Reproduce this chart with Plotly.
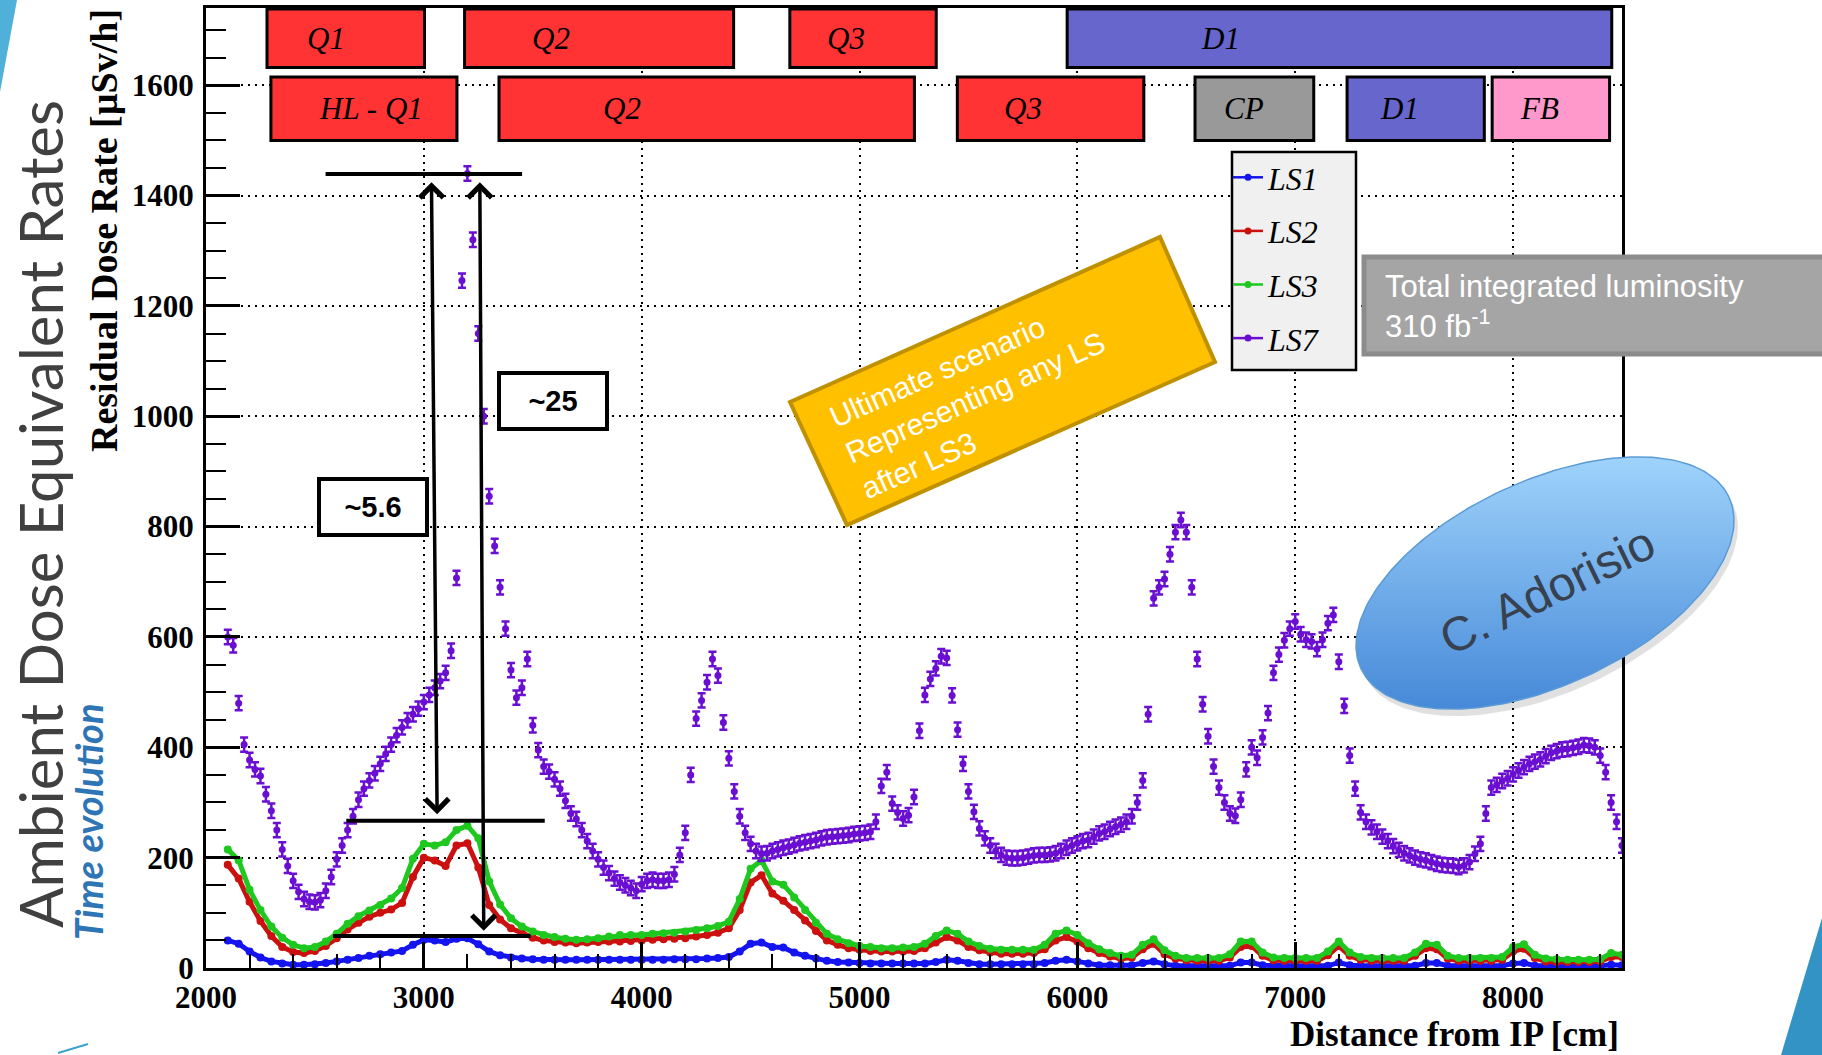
import numpy as np
import plotly.graph_objects as go

# ---------------- screen / figure geometry (pixels) ----------------
W, H = 1822, 1055
PL, PR, PT, PB = 206, 1622, 8, 968   # plot frame in pixels

SERIF = "Liberation Serif, Times New Roman, serif"
SANS = "Liberation Sans, Arial, sans-serif"

# ---------------- data ----------------
x_fine = list(range(2100, 8501, 25))     # LS7 sampling [cm]
x_coarse = list(range(2100, 8501, 50))   # LS1/LS2/LS3 sampling [cm]

ls7 = [
    600, 585, 480, 405, 377, 360, 348, 315, 285, 250, 215, 185, 158, 138, 125, 120, 119, 123, 140, 165,
    197, 222, 250, 275, 305, 325, 340, 353, 370, 388, 405, 422, 436, 449, 460, 470, 482, 495, 508, 520,
    535, 575, 707, 1246, 1440, 1320, 1150, 1000, 855, 765, 690, 615, 540, 490, 508, 560, 440, 395, 365, 356,
    342, 325, 303, 280, 270, 250, 230, 212, 197, 182, 172, 162, 155, 150, 145, 140, 152, 158, 160, 158,
    158, 160, 170, 205, 245, 350, 452, 485, 518, 560, 530, 445, 380, 320, 275, 245, 225, 212, 207, 208,
    212, 215, 218, 220, 223, 226, 228, 230, 232, 235, 237, 238, 239, 240, 241, 243, 244, 245, 247, 265,
    330, 355, 298, 282, 271, 277, 310, 430, 495, 524, 543, 565, 562, 494, 432, 370, 320, 283, 253, 235,
    222, 212, 205, 200, 199, 199, 200, 202, 204, 205, 205, 206, 208, 212, 218, 222, 226, 230, 232, 238,
    244, 247, 252, 256, 260, 265, 275, 300, 340, 460, 670, 690, 705, 750, 790, 812, 790, 690, 560, 478,
    420, 365, 327, 300, 280, 276, 305, 360, 400, 381, 418, 462, 535, 568, 594, 615, 628, 605, 595, 592,
    578, 595, 625, 640, 555, 475, 385, 325, 282, 265, 255, 247, 238, 230, 221, 214, 208, 204, 200, 197,
    195, 192, 189, 187, 186, 185, 183, 186, 192, 207, 225, 280, 327, 332, 339, 344, 351, 358, 364, 370,
    374, 378, 384, 390, 393, 396, 397, 399, 401, 404, 403, 400, 385, 355, 300, 265, 222,
]

ls3 = [
    215, 195, 142, 105, 75, 55, 42, 36, 38, 48,
    62, 80, 94, 104, 114, 126, 145, 198, 225, 222,
    228, 250, 258, 235, 157, 115, 90, 75, 66, 60,
    56, 53, 51, 52, 54, 57, 60, 60, 60, 62,
    63, 64, 66, 69, 72, 76, 84, 125, 180, 195,
    157, 151, 128, 105, 82, 62, 52, 45, 40, 38,
    36, 36, 37, 38, 44, 58, 68, 62, 48, 40,
    35, 33, 33, 33, 33, 42, 62, 68, 60, 45,
    34, 27, 22, 24, 42, 52, 32, 22, 18, 18,
    18, 18, 25, 48, 48, 28, 19, 18, 18, 18,
    18, 30, 48, 28, 20, 18, 18, 18, 18, 28,
    44, 42, 22, 18, 18, 18, 18, 20, 38, 43,
    24, 17, 16, 15, 15, 15, 16, 27, 24,
]

ls2 = [
    187, 162, 120, 85, 58, 38, 29, 27, 31, 40,
    54, 70, 82, 93, 100, 106, 118, 165, 200, 195,
    185, 222, 226, 182, 114, 88, 72, 64, 55, 50,
    47, 46, 45, 46, 47, 48, 48, 49, 50, 51,
    52, 53, 54, 57, 60, 64, 72, 105, 155, 168,
    135, 122, 105, 86, 67, 50, 42, 36, 33, 31,
    30, 30, 30, 31, 36, 46, 56, 50, 38, 32,
    28, 26, 26, 26, 27, 34, 50, 56, 48, 36,
    27, 21, 17, 19, 34, 44, 25, 17, 14, 13,
    13, 13, 19, 38, 40, 22, 14, 13, 13, 13,
    13, 23, 40, 22, 15, 13, 13, 13, 13, 22,
    36, 34, 17, 13, 13, 13, 13, 15, 30, 35,
    18, 12, 11, 11, 11, 11, 12, 20, 20,
]

ls1 = [
    50, 44, 30, 19, 12, 8, 6, 6, 7, 9,
    12, 15, 18, 22, 25, 28, 31, 42, 51, 50,
    47, 53, 54, 43, 30, 23, 19, 17, 16, 15,
    15, 15, 15, 15, 15, 15, 15, 15, 15, 15,
    15, 16, 16, 16, 17, 18, 20, 30, 44, 46,
    38, 37, 28, 22, 17, 13, 11, 10, 9, 8,
    8, 8, 8, 8, 8, 11, 15, 13, 9, 7,
    7, 7, 7, 7, 7, 9, 13, 15, 12, 8,
    5, 5, 5, 5, 9, 12, 7, 4, 4, 4,
    4, 4, 4, 10, 10, 5, 4, 4, 4, 4,
    4, 4, 10, 5, 4, 4, 4, 4, 4, 4,
    9, 9, 4, 4, 4, 4, 4, 4, 8, 9,
    4, 4, 3, 3, 3, 3, 4, 6, 5,
]

series_names = ["LS1", "LS2", "LS3", "LS7"]
series_colors = ["#1414f0", "#cc1010", "#1ec81e", "#6a0fd2"]

# magnet layout along the beam line
row1_labels = ["Q1", "Q2", "Q3", "D1"]
row1_start = [2280, 3187, 4680, 5953]
row1_end = [3003, 4422, 5352, 8453]
row1_textx = [2549, 3585, 4937, 6656]
row1_colors = ["#ff3333", "#ff3333", "#ff3333", "#6666cc"]
row1_y = (1632, 1738)

row2_labels = ["HL - Q1", "Q2", "Q3", "CP", "D1", "FB"]
row2_start = [2298, 3345, 5449, 6540, 7238, 7904]
row2_end = [3152, 5252, 6305, 7085, 7868, 8443]
row2_textx = [2758, 3909, 5752, 6766, 7478, 8123]
row2_colors = ["#ff3333", "#ff3333", "#ff3333", "#999999", "#6666cc", "#ff99cc"]
row2_y = (1500, 1615)

# ratio markers
hlines_x0 = [2549, 2644, 2583]
hlines_x1 = [3451, 3555, 3490]
hlines_y = [1439, 267, 58]
arrows_top = [(3035, 1424), (3257, 1424)]
arrows_bot = [(3061, 276), (3275, 65)]
ratio_text = ["~5.6", "~25"]
ratio_pos = [(2767, 835), (3593, 1027)]


def fx(p):
    """pixel x -> paper fraction"""
    return p / W


def fy(p):
    """pixel y (from top) -> paper fraction"""
    return 1 - p / H


fig = go.Figure()

# ---------------- data traces ----------------
for name, col, ys in zip(series_names[:3], series_colors[:3], [ls1, ls2, ls3]):
    fig.add_trace(go.Scatter(
        x=x_coarse, y=ys, name=name, legendgroup=name, showlegend=False,
        mode="lines+markers",
        line=dict(color=col, width=5),
        marker=dict(color=col, size=8, symbol="circle"),
        error_y=dict(type="constant", value=3, color=col, thickness=2, width=3),
    ))

fig.add_trace(go.Scatter(
    x=x_fine, y=ls7, name=series_names[3], legendgroup=series_names[3], showlegend=False,
    mode="markers",
    marker=dict(color=series_colors[3], size=7, symbol="circle"),
    error_y=dict(type="constant", value=13, color=series_colors[3], thickness=2.5, width=4),
))

# legend entries (ROOT style: thin line with a dot)
for name, col in zip(series_names, series_colors):
    fig.add_trace(go.Scatter(
        x=[None], y=[None], name=name, legendgroup=name, mode="lines+markers",
        line=dict(color=col, width=2.5), marker=dict(color=col, size=7),
    ))

# ---------------- overlay (pixel) axes for the ellipse ----------------
ell_cx, ell_cy, ell_a, ell_b, ell_ang = 1545, 583, 203, 102, np.deg2rad(25)
t = np.linspace(0, 2 * np.pi, 240)


def ellipse(cx, cy):
    ex = cx + ell_a * np.cos(t) * np.cos(ell_ang) + ell_b * np.sin(t) * np.sin(ell_ang)
    ey = cy - ell_a * np.cos(t) * np.sin(ell_ang) + ell_b * np.sin(t) * np.cos(ell_ang)
    return ex, H - ey


sx, sy = ellipse(ell_cx + 4, ell_cy + 7)
fig.add_trace(go.Scatter(x=sx, y=sy, xaxis="x2", yaxis="y2", mode="lines",
                         fill="toself", fillcolor="rgba(0,0,0,0.12)",
                         line=dict(width=0), showlegend=False, hoverinfo="skip"))
ex, ey = ellipse(ell_cx, ell_cy)
fig.add_trace(go.Scatter(x=ex, y=ey, xaxis="x2", yaxis="y2", mode="lines",
                         fill="toself",
                         fillgradient=dict(type="vertical",
                                           colorscale=[[0, "#4689d8"], [1, "#9fd3fb"]]),
                         line=dict(color="#5b9bd5", width=1.5),
                         showlegend=False, hoverinfo="skip"))

shapes = []
annotations = []


def ptext(x, y, text, font, **kw):
    d = dict(x=fx(x), y=fy(y), xref="paper", yref="paper", text=text, showarrow=False,
             xanchor="center", yanchor="middle", font=font)
    d.update(kw)
    annotations.append(d)


# magnet boxes
for labels, x0s, x1s, txs, cols, (y0, y1) in [
    (row1_labels, row1_start, row1_end, row1_textx, row1_colors, row1_y),
    (row2_labels, row2_start, row2_end, row2_textx, row2_colors, row2_y),
]:
    for lab, a, b, tx, c in zip(labels, x0s, x1s, txs, cols):
        shapes.append(dict(type="rect", xref="x", yref="y", x0=a, x1=b, y0=y0, y1=y1,
                           fillcolor=c, line=dict(color="black", width=3), layer="above"))
        annotations.append(dict(x=tx, y=(y0 + y1) / 2, xref="x", yref="y", text=lab,
                                showarrow=False, xanchor="center", yanchor="middle",
                                font=dict(family=SERIF, size=31, style="italic",
                                          color="#000000")))

# ratio lines and arrows
for a, b, yv in zip(hlines_x0, hlines_x1, hlines_y):
    shapes.append(dict(type="line", xref="x", yref="y", x0=a, x1=b, y0=yv, y1=yv,
                       line=dict(color="black", width=4), layer="above"))
for (tx, ty), (bx, by) in zip(arrows_top, arrows_bot):
    annotations.append(dict(x=tx, y=ty, ax=bx, ay=by, xref="x", yref="y", axref="x", ayref="y",
                            text="", showarrow=True, arrowside="end+start",
                            arrowhead=4, startarrowhead=4, arrowsize=1.3, startarrowsize=1.3,
                            arrowwidth=3.5, arrowcolor="black"))
for txt, (tx, ty) in zip(ratio_text, ratio_pos):
    annotations.append(dict(x=tx, y=ty, xref="x", yref="y", text=txt, showarrow=False,
                            xanchor="center", yanchor="middle",
                            width=104, height=52, bgcolor="white", bordercolor="black",
                            borderwidth=4, borderpad=0,
                            font=dict(family=SANS, size=29, weight="bold", color="black")))

# legend frame (legend itself is transparent and drawn on top)
shapes.append(dict(type="rect", xref="paper", yref="paper",
                   x0=fx(1232), x1=fx(1356), y0=fy(370), y1=fy(152),
                   fillcolor="#f0f0f0", line=dict(color="black", width=2.5), layer="above"))

# orange rotated box
ob = [(790, 402), (1160, 237), (1215, 362), (847, 525)]
path = "M " + " L ".join(f"{fx(a)},{fy(b)}" for a, b in ob) + " Z"
shapes.append(dict(type="path", xref="paper", yref="paper", path=path,
                   fillcolor="#ffc000", line=dict(color="#bf9000", width=4), layer="above"))
ptext(975, 397, "Ultimate scenario<br>Representing any LS<br>after LS3",
      dict(family=SANS, size=30, color="white"), textangle=-24, align="left")

# grey luminosity box
shapes.append(dict(type="rect", xref="paper", yref="paper",
                   x0=fx(1364), x1=fx(1830), y0=fy(354), y1=fy(257),
                   fillcolor="#a5a5a5", line=dict(color="#8c8c8c", width=5), layer="above"))
ptext(1383, 306, "Total integrated luminosity<br>310 fb<sup>-1</sup>",
      dict(family=SANS, size=31, color="white"), xanchor="left", align="left")

# ellipse label
ptext(1547, 590, "C. Adorisio", dict(family=SANS, size=48, color="#37414f"), textangle=-26)

# slide decorations
shapes.append(dict(type="path", xref="paper", yref="paper",
                   path=f"M {fx(0)},{fy(0)} L {fx(17)},{fy(0)} L {fx(0)},{fy(92)} Z",
                   fillcolor="#4fb0d9", line=dict(width=0), layer="above"))
shapes.append(dict(type="path", xref="paper", yref="paper",
                   path=f"M {fx(1822)},{fy(918)} L {fx(1822)},{fy(1055)} L {fx(1781)},{fy(1055)} Z",
                   fillcolor="#3293c4", line=dict(width=0), layer="above"))
shapes.append(dict(type="line", xref="paper", yref="paper",
                   x0=fx(58), y0=fy(1053), x1=fx(88), y1=fy(1044),
                   line=dict(color="#3aa3d0", width=2), layer="above"))

# titles
ptext(40, 514, "Ambient Dose Equivalent Rates",
      dict(family="Lato, Open Sans, sans-serif", size=60, weight=400, color="#404040"),
      textangle=-90)
ptext(88, 822, "Time evolution",
      dict(family="Lato, Open Sans, sans-serif", size=38, weight="bold", style="italic",
           color="#2e75b6"), textangle=-90)
ptext(104, 231, "Residual Dose Rate [µSv/h]",
      dict(family=SERIF, size=38, weight="bold", color="black"), textangle=-90)
ptext(1621, 1034, "Distance from IP [cm]",
      dict(family=SERIF, size=35, weight="bold", color="black"), xanchor="right")

axis_common = dict(
    showline=True, linecolor="black", linewidth=3, mirror=True,
    ticks="inside", tickcolor="black", tickwidth=2.5,
    showgrid=True, gridcolor="black", gridwidth=2, griddash="2px,5px",
    zeroline=False, automargin=False,
    tickfont=dict(family=SERIF, size=31, weight="bold", color="black"),
)

fig.update_layout(
    width=W, height=H,
    margin=dict(l=0, r=0, t=0, b=0),
    paper_bgcolor="white", plot_bgcolor="rgba(0,0,0,0)",
    hovermode=False,
    xaxis=dict(domain=[fx(PL), fx(PR)], range=[2000, 8500],
               tickvals=[2000, 3000, 4000, 5000, 6000, 7000, 8000], ticklen=26,
               minor=dict(dtick=200, ticks="inside", ticklen=14, tickcolor="black",
                          tickwidth=2, showgrid=False),
               ticklabelstandoff=0, anchor="y", **axis_common),
    yaxis=dict(domain=[fy(PB), fy(PT)], range=[0, 1740],
               tickvals=[0, 200, 400, 600, 800, 1000, 1200, 1400, 1600], ticklen=34,
               minor=dict(dtick=50, ticks="inside", ticklen=20, tickcolor="black",
                          tickwidth=2, showgrid=False),
               ticklabelstandoff=3, anchor="x", **axis_common),
    xaxis2=dict(domain=[0, 1], range=[0, W], visible=False, anchor="y2", fixedrange=True),
    yaxis2=dict(domain=[0, 1], range=[0, H], visible=False, anchor="x2", fixedrange=True),
    legend=dict(x=fx(1228), y=fy(150), xanchor="left", yanchor="top",
                bgcolor="rgba(0,0,0,0)", borderwidth=0,
                font=dict(family=SERIF, size=32, style="italic", color="black"),
                tracegroupgap=9, itemwidth=30, traceorder="grouped"),
    shapes=shapes,
    annotations=annotations,
)

# remove the default 8px page margin so the figure fills the window exactly
fig.write_html("out.html",
               config={"displayModeBar": False},
               post_script="document.body.style.margin='0';"
                           "document.body.style.overflow='hidden';")
